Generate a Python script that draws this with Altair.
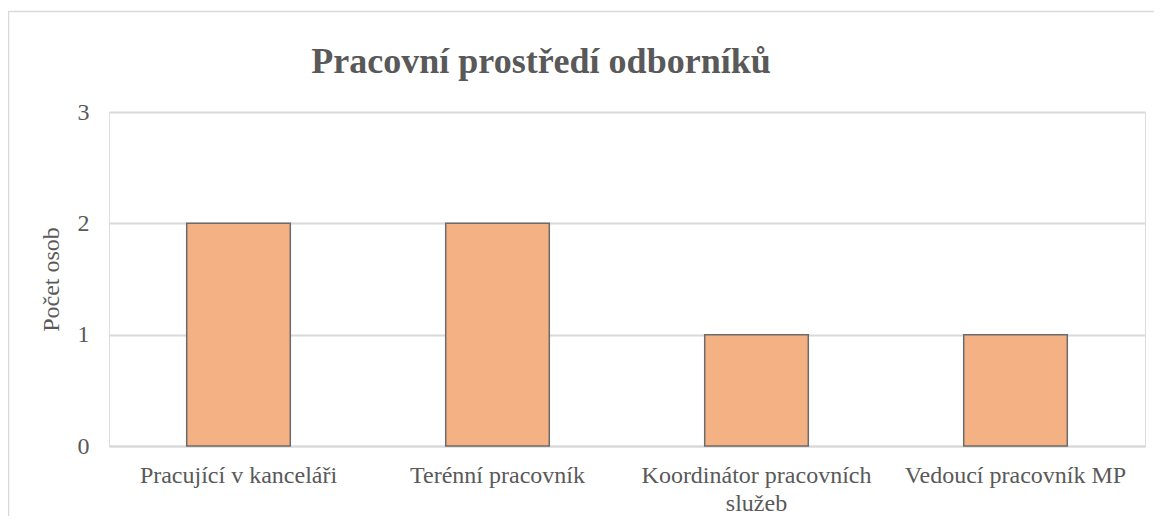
import altair as alt
import pandas as pd

categories = ["Pracující v kanceláři", "Terénní pracovník",
              "Koordinátor pracovních služeb", "Vedoucí pracovník MP"]
counts = [2, 2, 1, 1]
y_ticks = [0, 1, 2, 3]
wrapped = {"Koordinátor pracovních služeb": ["Koordinátor pracovních", "služeb"]}

df = pd.DataFrame({"kategorie": categories, "pocet": counts})

W, H = 1036, 334
FONT = "Liberation Serif"
TXT = "#595959"

label_expr = "datum.value"
for k, v in wrapped.items():
    label_expr = f"datum.value == '{k}' ? ['{v[0]}', '{v[1]}'] : " + label_expr

bars = alt.Chart(df).mark_bar(
    color="#F4B183", stroke="#6b6b6b", strokeWidth=1.5
).encode(
    x=alt.X("kategorie:N", sort=categories, title=None,
            scale=alt.Scale(paddingInner=0.6, paddingOuter=0.3),
            axis=alt.Axis(labelAngle=0, labelExpr=label_expr, labelFont=FONT,
                          labelFontSize=24, labelColor=TXT, labelPadding=17,
                          labelLineHeight=28, ticks=False, domainColor="#D9D9D9",
                          domainWidth=2, grid=False, labelLimit=400)),
    y=alt.Y("pocet:Q", scale=alt.Scale(domain=[0, 3]),
            axis=alt.Axis(values=y_ticks, title="Počet osob", titleFont=FONT,
                          titleFontSize=24, titleFontWeight="normal", titleColor=TXT,
                          titlePadding=14, labelFont=FONT, labelFontSize=24,
                          labelColor=TXT, labelPadding=20, ticks=False, domain=False,
                          gridColor="#D9D9D9", gridWidth=2, format="d")),
)

frame_df = pd.DataFrame({"f": [0]})
frame = alt.Chart(frame_df).mark_rect(
    fillOpacity=0, stroke="#D9D9D9", strokeWidth=1.5, clip=False
).encode(
    x=alt.value(-100.5), x2=alt.value(W + 80),
    y=alt.value(-100.5), y2=alt.value(H + 200),
)

chart = alt.layer(frame, bars).properties(
    width=W, height=H,
    title=alt.Title("Pracovní prostředí odborníků", font=FONT, fontSize=36,
                    fontWeight="bold", color=TXT, anchor="middle", dx=-86,
                    baseline="alphabetic", offset=0, dy=98),
    autosize=alt.AutoSizeParams(type="none"),
    padding={"left": 101, "top": 104, "right": 9, "bottom": 70},
).configure_view(stroke=None).configure(background="white")

chart.save("out.html", embed_options={"renderer": "svg", "actions": False})
